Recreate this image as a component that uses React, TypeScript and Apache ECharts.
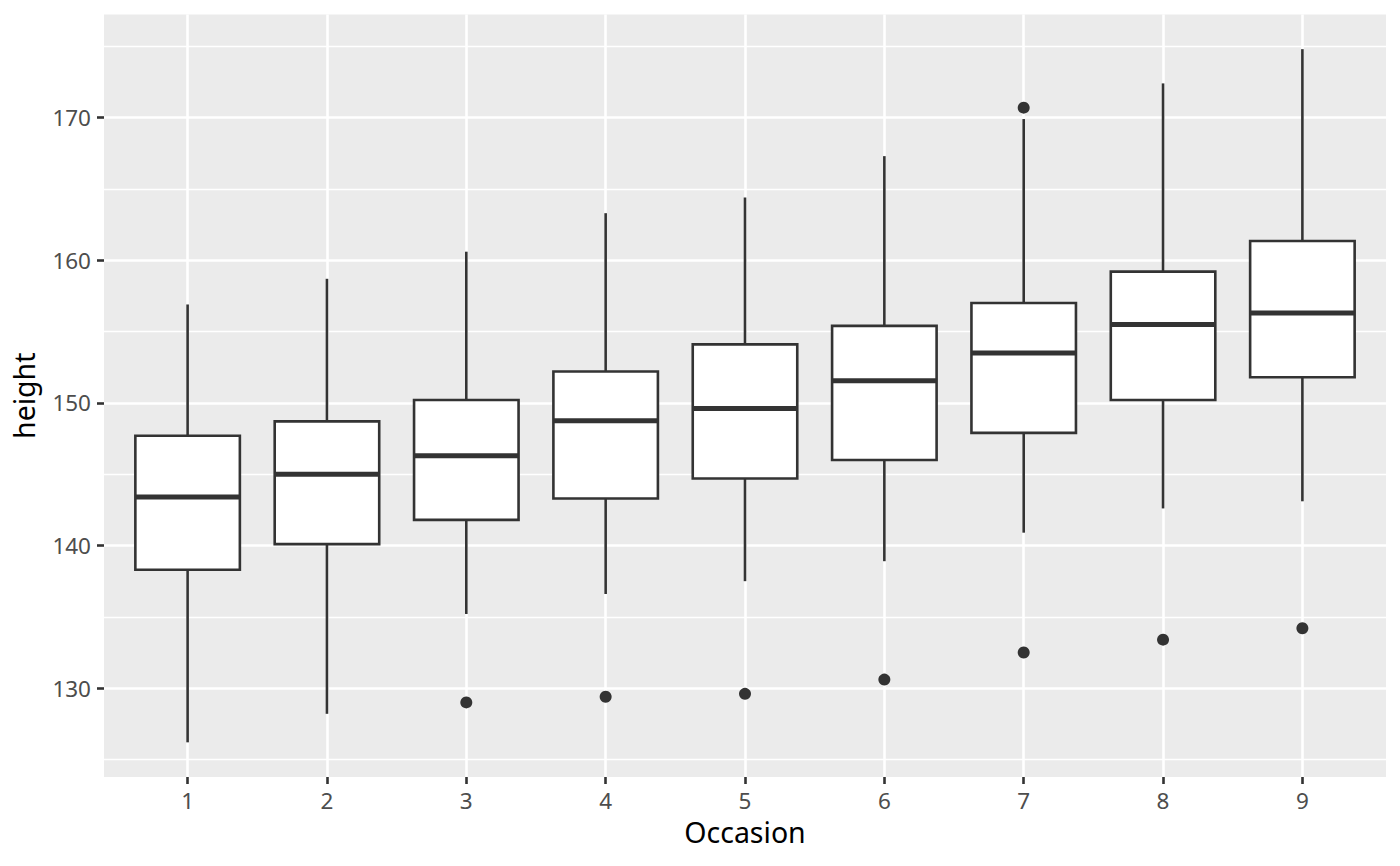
import React, { useEffect, useRef } from 'react';
import * as echarts from 'echarts';

// ---- data ----
const occasions = ['1', '2', '3', '4', '5', '6', '7', '8', '9'];
const whiskerLow = [126.2, 128.2, 135.2, 136.6, 137.5, 138.9, 140.9, 142.6, 143.1];
const lowerHinge = [138.3, 140.1, 141.8, 143.3, 144.7, 146.0, 147.9, 150.2, 151.8];
const medians = [143.4, 145.0, 146.3, 148.75, 149.6, 151.55, 153.5, 155.5, 156.3];
const upperHinge = [147.7, 148.7, 150.2, 152.2, 154.1, 155.4, 157.0, 159.2, 161.35];
const whiskerHigh = [156.9, 158.7, 160.6, 163.3, 164.4, 167.3, 169.9, 172.4, 174.8];
const outlierOccasion = ['3', '4', '5', '6', '7', '7', '8', '9'];
const outlierHeight = [129.0, 129.4, 129.6, 130.6, 132.5, 170.7, 133.4, 134.2];
const yTicks = [130, 140, 150, 160, 170];
const yMinorBreaks = [125, 135, 145, 155, 165, 175];
const xTicks = occasions.map(Number);

const FONT = '"Noto Sans", "Open Sans", sans-serif';
const INK = '#333333';

export default function App() {
  const ref = useRef<HTMLDivElement>(null);

  useEffect(() => {
    document.body.style.margin = '0';
    if (!ref.current) return;
    const chart = echarts.init(ref.current, undefined, { renderer: 'svg' });

    const boxData = occasions.map((o, i) => [
      Number(o), whiskerLow[i], lowerHinge[i], medians[i], upperHinge[i], whiskerHigh[i],
    ]);
    const outlierData = outlierOccasion.map((o, i) => [Number(o), outlierHeight[i]]);
    const boxWidth = 0.75;

    chart.setOption({
      animation: false,
      grid: {
        left: 104, right: 14, top: 14.5, bottom: 89,
        show: true, backgroundColor: '#EBEBEB', borderWidth: 0,
      },
      xAxis: {
        type: 'value',
        min: 0.4,
        max: 9.6,
        name: 'Occasion',
        nameLocation: 'middle',
        nameGap: 41,
        nameTextStyle: { color: '#000000', fontSize: 28.5, lineHeight: 28.5, fontFamily: FONT },
        axisLine: { show: false },
        axisTick: { show: true, length: 7, customValues: xTicks, lineStyle: { color: INK, width: 2.6 } },
        axisLabel: {
          customValues: xTicks,
          formatter: (v: number) => String(v),
          color: '#4D4D4D', fontSize: 22.5, lineHeight: 22.5, fontFamily: FONT, margin: 12,
        },
        splitLine: { show: true, lineStyle: { color: '#FFFFFF', width: 2.6 } },
      },
      yAxis: {
        type: 'value',
        min: 123.77,
        max: 177.23,
        name: 'height',
        nameLocation: 'middle',
        nameGap: 66,
        nameRotate: 90,
        nameTextStyle: { color: '#000000', fontSize: 28.5, lineHeight: 28.5, fontFamily: FONT },
        axisLine: { show: false },
        axisTick: { show: true, length: 7, customValues: yTicks, lineStyle: { color: INK, width: 2.6 } },
        axisLabel: {
          customValues: yTicks,
          formatter: (v: number) => String(v),
          color: '#4D4D4D', fontSize: 22.5, lineHeight: 22.5, fontFamily: FONT, margin: 13,
        },
        splitLine: { show: true, lineStyle: { color: '#FFFFFF', width: 2.6 } },
      },
      series: [
        {
          type: 'custom',
          z: 2,
          data: boxData,
          encode: { x: 0, y: [1, 2, 3, 4, 5] },
          renderItem: (_params: any, api: any) => {
            const x = api.value(0);
            const lo = api.coord([x, api.value(1)]);
            const b1 = api.coord([x, api.value(2)]);
            const md = api.coord([x, api.value(3)]);
            const b3 = api.coord([x, api.value(4)]);
            const hi = api.coord([x, api.value(5)]);
            const w = api.size([boxWidth, 0])[0];
            return {
              type: 'group',
              children: [
                { type: 'line', shape: { x1: hi[0], y1: hi[1], x2: b3[0], y2: b3[1] }, style: { stroke: INK, lineWidth: 2.6 } },
                { type: 'line', shape: { x1: lo[0], y1: lo[1], x2: b1[0], y2: b1[1] }, style: { stroke: INK, lineWidth: 2.6 } },
                {
                  type: 'rect',
                  shape: { x: b3[0] - w / 2, y: b3[1], width: w, height: b1[1] - b3[1] },
                  style: { fill: '#FFFFFF', stroke: INK, lineWidth: 2.6 },
                },
                {
                  type: 'line',
                  shape: { x1: md[0] - w / 2, y1: md[1], x2: md[0] + w / 2, y2: md[1] },
                  style: { stroke: INK, lineWidth: 5 },
                },
              ],
            };
          },
        },
        {
          type: 'scatter',
          z: 3,
          data: outlierData,
          symbol: 'circle',
          symbolSize: 12,
          itemStyle: { color: INK, opacity: 1 },
          markLine: {
            silent: true,
            z: 1,
            symbol: ['none', 'none'],
            label: { show: false },
            emphasis: { disabled: true },
            lineStyle: { color: '#FFFFFF', width: 1.3, type: 'solid' },
            data: yMinorBreaks.map((v) => ({ yAxis: v })),
          },
        },
      ],
    });

    return () => chart.dispose();
  }, []);

  return <div ref={ref} style={{ width: 1400, height: 866 }} />;
}
